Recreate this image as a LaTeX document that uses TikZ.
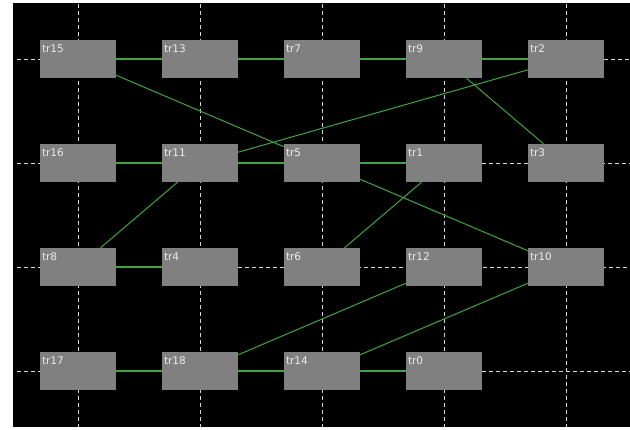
\documentclass[tikz,border=0pt]{standalone}
\usepackage{fontspec}
\setmainfont{DejaVu Sans}
\definecolor{panel}{RGB}{0,0,0}
\definecolor{boxgray}{RGB}{128,128,128}
\definecolor{gridline}{RGB}{215,215,215}
\definecolor{wire}{RGB}{64,165,64}
\definecolor{labeltext}{RGB}{235,235,235}
\tikzset{
  tbox/.style={rectangle, fill=boxgray, draw=none, inner sep=0pt,
               minimum width=76pt, minimum height=38pt},
  tlabel/.style={anchor=base west, inner sep=0pt, text=labeltext,
                 font=\fontsize{10.5}{12}\selectfont},
  gridrule/.style={draw=gridline, line width=1pt, dash pattern=on 4pt off 3pt},
  wireline/.style={draw=wire, line width=1pt},
  hwire/.style={draw=wire, line width=1.2pt},
}
% a grey box with its name printed in the upper left corner
\newcommand{\trbox}[3]{%
  \node[tbox] (#1) at (#2,#3) {};
  \node[tlabel] (#1lbl) at ([xshift=2pt,yshift=-13pt]#1.north west) {#1};
}
% straight link between two neighbours in a row
\newcommand{\hlink}[2]{%
  \draw[hwire] (#1.east) -- (#2.west);
}
\begin{document}
\begin{tikzpicture}[x=1pt,y=-1pt]
  \useasboundingbox (0,0) rectangle (630,429);
  \fill[white] (0,0) rectangle (630,429);
  \fill[panel] (13,3) rectangle (630,427);

  % dashed grid through the box centres; the rows stop short of linked boxes
  \foreach \gx in {78,200,322,444,566}
    \draw[gridrule] (\gx,4) -- (\gx,427);
  \draw[gridrule] (17,59) -- (40,59) (604,59) -- (630,59);
  \draw[gridrule] (17,163) -- (40,163) (482,163) -- (630,163);
  \draw[gridrule] (17,267) -- (40,267) (238,267) -- (630,267);
  \draw[gridrule] (17,371) -- (40,371) (482,371) -- (630,371);

  % boxes
  \trbox{tr15}{78}{59}
  \trbox{tr13}{200}{59}
  \trbox{tr7}{322}{59}
  \trbox{tr9}{444}{59}
  \trbox{tr2}{566}{59}

  \trbox{tr16}{78}{163}
  \trbox{tr11}{200}{163}
  \trbox{tr5}{322}{163}
  \trbox{tr1}{444}{163}
  \trbox{tr3}{566}{163}

  \trbox{tr8}{78}{267}
  \trbox{tr4}{200}{267}
  \trbox{tr6}{322}{267}
  \trbox{tr12}{444}{267}
  \trbox{tr10}{566}{267}

  \trbox{tr17}{78}{371}
  \trbox{tr18}{200}{371}
  \trbox{tr14}{322}{371}
  \trbox{tr0}{444}{371}

  % connections
  \hlink{tr15}{tr13}
  \hlink{tr13}{tr7}
  \hlink{tr7}{tr9}
  \hlink{tr9}{tr2}
  \draw[wireline] (tr15) -- (tr5);
  \draw[wireline] (tr9) -- (tr3);
  \draw[wireline] (tr11) -- (tr2);

  \hlink{tr16}{tr11}
  \hlink{tr11}{tr5}
  \hlink{tr5}{tr1}
  \draw[wireline] (tr11) -- (tr8);
  \draw[wireline] (tr5) -- (tr10);
  \draw[wireline] (tr1) -- (tr6);

  \hlink{tr8}{tr4}
  \draw[wireline] (tr12) -- (tr18);
  \draw[wireline] (tr10) -- (tr14);

  \hlink{tr17}{tr18}
  \hlink{tr18}{tr14}
  \hlink{tr14}{tr0}
\end{tikzpicture}
\end{document}
